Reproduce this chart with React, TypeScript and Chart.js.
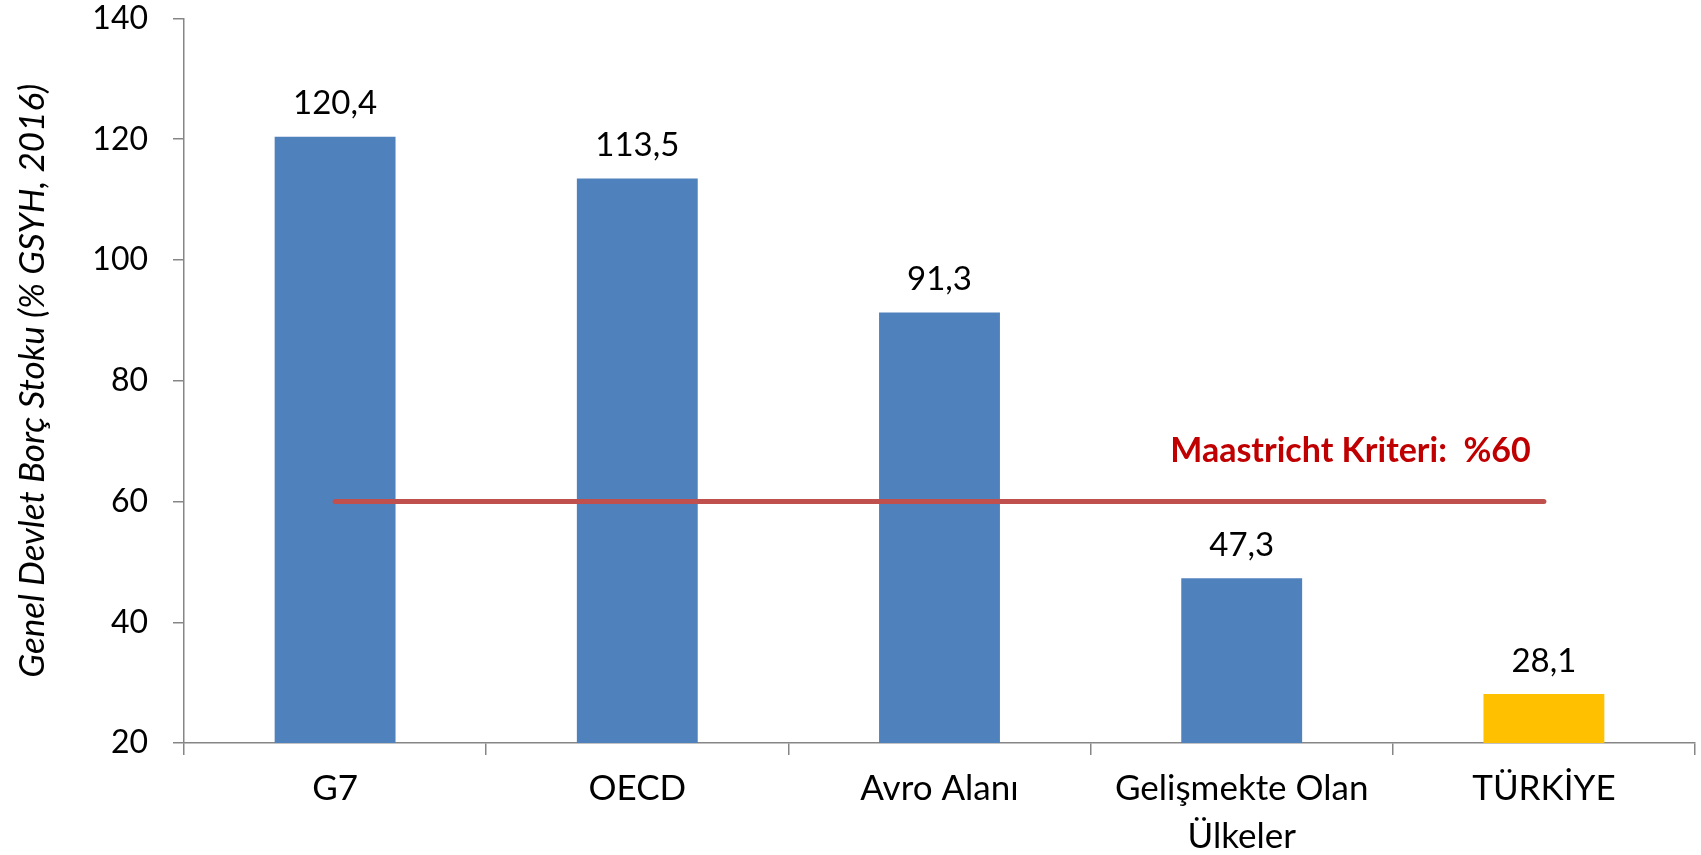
import React, { useEffect, useRef } from "react";
import { Chart, registerables } from "chart.js";

Chart.register(...registerables);

const categories: (string | string[])[] = ["G7", "OECD", "Avro Alanı", ["Gelişmekte Olan", "Ülkeler"], "TÜRKİYE"];
const debtValues = [120.4, 113.5, 91.3, 47.3, 28.1];
const barColors = ["#4F81BD", "#4F81BD", "#4F81BD", "#4F81BD", "#FFC000"];
const maastrichtValues = [60, 60, 60, 60, 60];
const maastrichtLabel = "Maastricht Kriteri:  %60";
const yAxisTitle = "Genel Devlet Borç Stoku (% GSYH, 2016)";
const yMin = 20;
const yMax = 140;
const yStep = 20;

const FONT = "Lato, 'Open Sans', sans-serif";

const labelsPlugin = {
  id: "valueLabels",
  afterDatasetsDraw(chart: any) {
    const { ctx } = chart;
    const meta = chart.getDatasetMeta(0);
    ctx.save();
    ctx.font = `33px ${FONT}`;
    ctx.fillStyle = "#000000";
    ctx.textAlign = "center";
    ctx.textBaseline = "middle";
    meta.data.forEach((bar: any, i: number) => {
      const txt = debtValues[i].toFixed(1).replace(".", ",");
      ctx.fillText(txt, bar.x, bar.y - 33);
    });
    const xs = chart.scales.x;
    const ys = chart.scales.y;
    ctx.font = `bold 34px ${FONT}`;
    ctx.fillStyle = "#C00000";
    ctx.fillText(maastrichtLabel, xs.getPixelForValue(3.36), ys.getPixelForValue(60) - 50);
    ctx.restore();
  },
};

export default function App() {
  const ref = useRef<HTMLCanvasElement>(null);
  useEffect(() => {
    if (!ref.current) return;
    const chart = new Chart(ref.current, {
      type: "bar",
      data: {
        labels: categories as any,
        datasets: [
          {
            type: "bar",
            data: debtValues,
            backgroundColor: barColors,
            categoryPercentage: 1,
            barPercentage: 0.4,
            order: 1,
          } as any,
          {
            type: "line",
            data: maastrichtValues,
            borderColor: "#C0504D",
            borderWidth: 5,
            borderCapStyle: "round",
            pointRadius: 0,
            fill: false,
            order: 0,
          } as any,
        ],
      },
      options: {
        responsive: false,
        animation: false,
        layout: { padding: { top: 0, right: 6, left: 0, bottom: 0 } },
        plugins: { legend: { display: false }, tooltip: { enabled: false } },
        scales: {
          x: {
            grid: { drawOnChartArea: false, tickLength: 12, color: "#868686", lineWidth: 1.5 },
            border: { color: "#868686", width: 1.5 },
            ticks: { color: "#000000", font: { family: FONT, size: 35, lineHeight: 1.36 }, padding: 10, maxRotation: 0, autoSkip: false },
            afterFit(scale: any) {
              scale.height = 112;
            },
          },
          y: {
            min: yMin,
            max: yMax,
            ticks: { stepSize: yStep, color: "#000000", font: { family: FONT, size: 32, lineHeight: 1.15 }, padding: 25 },
            grid: { drawOnChartArea: false, tickLength: 11, color: "#868686", lineWidth: 1.5 },
            border: { color: "#868686", width: 1.5 },
            title: {
              display: true,
              text: yAxisTitle,
              color: "#000000",
              font: { family: FONT, size: 35, style: "italic", lineHeight: 1.2 },
              padding: { top: 12, bottom: 0 },
            },
            afterFit(scale: any) {
              scale.width = 184;
              scale.paddingTop = 18.5;
              scale.paddingBottom = 18.5;
            },
          },
        },
      },
      plugins: [labelsPlugin],
    });
    return () => chart.destroy();
  }, []);
  return (
    <div style={{ position: "fixed", left: 0, top: 0, width: 1701, height: 855, background: "#fff" }}>
      <canvas ref={ref} width={1701} height={855} style={{ display: "block" }} />
    </div>
  );
}
